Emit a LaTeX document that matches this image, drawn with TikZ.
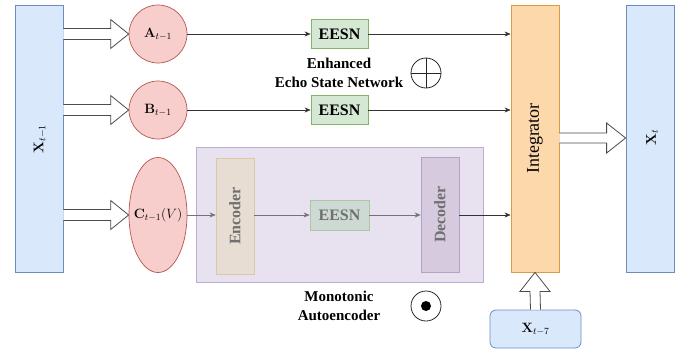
\documentclass[tikz,border=0pt]{standalone}
\usepackage{fix-cm}
\usepackage[no-math]{fontspec}
\setmainfont{Liberation Serif}
\usetikzlibrary{calc,arrows.meta,shapes.geometric}
\definecolor{bluef}{HTML}{DAE8FC}\definecolor{blued}{HTML}{6C8EBF}
\definecolor{redf}{HTML}{F8CECC}\definecolor{redd}{HTML}{B85450}
\definecolor{greenf}{HTML}{D5E8D4}\definecolor{greend}{HTML}{82B366}
\definecolor{orgf}{HTML}{FDD8AB}\definecolor{orgd}{HTML}{DE9A3C}
\definecolor{purf}{HTML}{E8E1F0}\definecolor{purd}{HTML}{BCAED0}
\definecolor{encf}{HTML}{E8DDD2}\definecolor{encd}{HTML}{DCC8A6}
\definecolor{eesnf}{HTML}{CCDAD3}\definecolor{eesnd}{HTML}{AEC6A8}
\definecolor{decf}{HTML}{D6CADF}\definecolor{decd}{HTML}{B4A2C6}
\definecolor{innertxt}{HTML}{707070}
\newcommand{\hbarrow}[2]{\draw[bigarrow] ($(#1)+(0,5.5)$) -- ($(#2)+(-18,5.5)$) -- ($(#2)+(-18,14.5)$) -- (#2) -- ($(#2)+(-18,-14.5)$) -- ($(#2)+(-18,-5.5)$) -- ($(#1)+(0,-5.5)$);}
\begin{document}
\begin{tikzpicture}[x=1pt,y=-1pt,
  bigarrow/.style={draw=black!70, fill=white, line width=0.8pt, line join=miter},
  conn/.style={draw=black!80, line width=0.6pt, -{Stealth[length=6pt,width=5pt]}},
  iconn/.style={draw=black!55, line width=0.6pt, -{Stealth[length=6pt,width=5pt]}},
  bluebox/.style={draw=blued, fill=bluef, line width=0.8pt, minimum width=48pt, minimum height=267pt, inner sep=0pt},
  circ/.style={circle, draw=redd, fill=redf, line width=0.7pt, minimum size=58pt, inner sep=0pt},
  mathlbl/.style={font=\fontsize{13.5}{16}\selectfont, inner sep=0pt},
  eesn/.style={draw=greend, fill=greenf, line width=0.7pt, minimum width=57pt, minimum height=29pt, inner sep=0pt, font=\fontsize{16}{18}\selectfont\bfseries},
  captext/.style={align=center, font=\fontsize{15}{19}\selectfont\bfseries},
  innerbox/.style={line width=0.7pt, minimum width=38pt, inner sep=0pt, text=innertxt, font=\fontsize{16}{18}\selectfont\bfseries}
]
\useasboundingbox (0,0) rectangle (688,354);
% main blocks
\node[bluebox] (X1) at (39,138.5) {};
\node[rotate=90, mathlbl, font=\fontsize{14}{16}\selectfont] (X1l) at (40,139) {$\mathbf{X}_{t-1}$};
\node[circ] (A) at (158,34) {};
\node[mathlbl] (Al) at (A.center) {$\mathbf{A}_{t-1}$};
\node[circ] (B) at (158,110) {};
\node[mathlbl] (Bl) at (B.center) {$\mathbf{B}_{t-1}$};
\node[ellipse, draw=redd, fill=redf, line width=0.7pt, minimum width=58pt, minimum height=115pt, inner sep=0pt] (C) at (158,215) {};
\node[mathlbl] (Cl) at (C.center) {$\mathbf{C}_{t-1}(V)$};
\node[eesn] (E1) at (339.5,34) {EESN};
\node[eesn] (E2) at (339.5,110) {EESN};
\node[captext] (ecap) at (339,72.5) {Enhanced\\Echo State Network};
\node[circle, draw=black!85, line width=0.8pt, minimum size=30pt, inner sep=0pt] (oplus) at (426,73) {};
\draw[black!85, line width=0.8pt] (oplus.north) -- (oplus.south) (oplus.west) -- (oplus.east);
% autoencoder
\node[draw=purd, fill=purf, line width=0.7pt, minimum width=287pt, minimum height=135pt, inner sep=0pt] (AE) at (339.5,214.5) {};
\node[innerbox, draw=encd, fill=encf, minimum height=116pt] (enc) at (235,216) {};
\node[rotate=90, text=innertxt, font=\fontsize{16}{18}\selectfont\bfseries] (encl) at (enc.center) {Encoder};
\node[innerbox, draw=eesnd, fill=eesnf, minimum width=59pt, minimum height=30pt] (E3) at (339.5,215) {EESN};
\node[innerbox, draw=decd, fill=decf, minimum height=115pt] (dec) at (440,214.5) {};
\node[rotate=90, text=innertxt, font=\fontsize{16}{18}\selectfont\bfseries] (decl) at (dec.center) {Decoder};
\node[captext] (mcap) at (339,306) {Monotonic\\Autoencoder};
\node[circle, draw=black!85, line width=0.8pt, minimum size=30pt, inner sep=0pt] (odot) at (426,306) {};
\fill[black] (odot.center) circle (5pt);
% integrator and output
\node[draw=orgd, fill=orgf, line width=0.8pt, minimum width=48pt, minimum height=267pt, inner sep=0pt] (I) at (535,138.5) {};
\node[rotate=90, font=\fontsize{18}{20}\selectfont] (Il) at (535,138.5) {Integrator};
\node[bluebox] (Xt) at (650,138.5) {};
\node[rotate=90, mathlbl, font=\fontsize{14}{16}\selectfont] (Xtl) at (652,137) {$\mathbf{X}_{t}$};
\node[draw=blued, fill=bluef, line width=0.8pt, rounded corners=6pt, minimum width=91pt, minimum height=38pt, inner sep=0pt, font=\fontsize{13.5}{16}\selectfont] (X7) at (535.5,329) {$\mathbf{X}_{t-7}$};
% block arrows
\coordinate (sA) at (X1.east |- A.center);
\coordinate (sB) at (X1.east |- B.center);
\coordinate (sC) at (X1.east |- C.center);
\hbarrow{sA}{A.west}
\hbarrow{sB}{B.west}
\hbarrow{sC}{C.west}
\coordinate (sI) at (I.east |- 0,138);
\coordinate (eI) at (Xt.west |- 0,138);
\draw[bigarrow] ($(sI)+(0,5)$) -- ($(eI)+(-19,5)$) -- ($(eI)+(-19,15)$) -- (eI) -- ($(eI)+(-19,-15)$) -- ($(eI)+(-19,-5)$) -- ($(sI)+(0,-5)$);
\draw[bigarrow] ($(X7.north)+(-5,0)$) -- ($(I.south)+(-5,19)$) -- ($(I.south)+(-15,19)$) -- (I.south) -- ($(I.south)+(15,19)$) -- ($(I.south)+(5,19)$) -- ($(X7.north)+(5,0)$);
% thin connectors
\draw[conn] (A.east) -- (E1.west);
\draw[conn] (B.east) -- (E2.west);
\draw[conn] (E1.east) -- (I.west |- E1.east);
\draw[conn] (E2.east) -- (I.west |- E2.east);
\draw[iconn] (C.east) -- (enc.west |- C.east);
\draw[iconn] (enc.east |- E3.west) -- (E3.west);
\draw[iconn] (E3.east) -- (dec.west |- E3.east);
\draw[conn] (dec.east |- E3.east) -- (I.west |- E3.east);
\end{tikzpicture}
\end{document}
